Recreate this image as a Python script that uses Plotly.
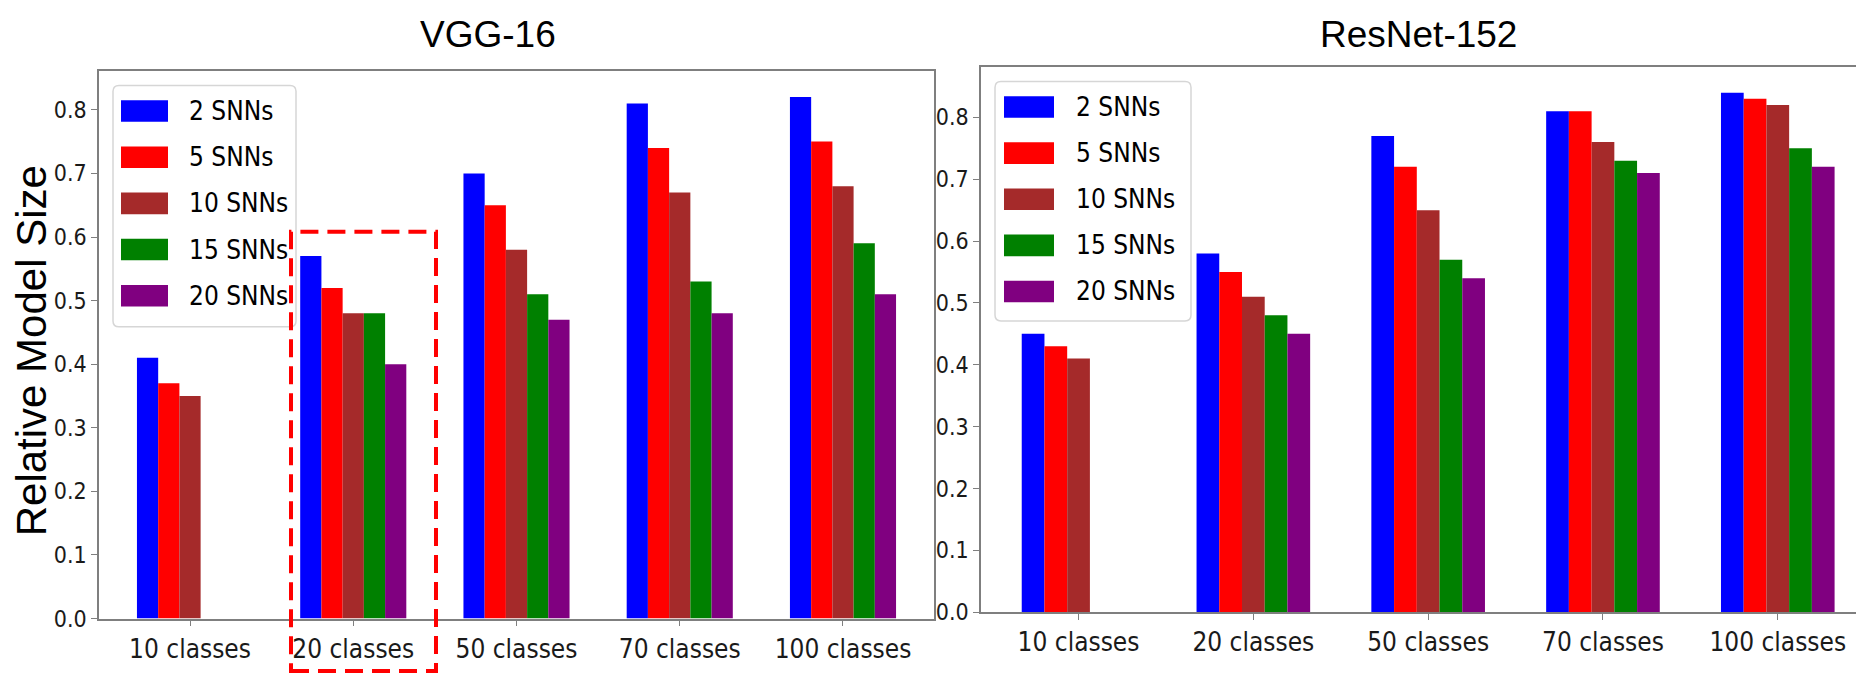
import plotly.graph_objects as go

categories = ["10 classes", "20 classes", "50 classes", "70 classes", "100 classes"]
series_names = ["2 SNNs", "5 SNNs", "10 SNNs", "15 SNNs", "20 SNNs"]
series_colors = ["#0000ff", "#ff0000", "#a52a2a", "#008000", "#800080"]

vgg_2 = [0.41, 0.57, 0.70, 0.81, 0.82]
vgg_5 = [0.37, 0.52, 0.65, 0.74, 0.75]
vgg_10 = [0.35, 0.48, 0.58, 0.67, 0.68]
vgg_15 = [None, 0.48, 0.51, 0.53, 0.59]
vgg_20 = [None, 0.40, 0.47, 0.48, 0.51]

res_2 = [0.45, 0.58, 0.77, 0.81, 0.84]
res_5 = [0.43, 0.55, 0.72, 0.81, 0.83]
res_10 = [0.41, 0.51, 0.65, 0.76, 0.82]
res_15 = [None, 0.48, 0.57, 0.73, 0.75]
res_20 = [None, 0.45, 0.54, 0.71, 0.72]

y_ticks = [0.0, 0.1, 0.2, 0.3, 0.4, 0.5, 0.6, 0.7, 0.8]
y_tick_labels = ["0.0", "0.1", "0.2", "0.3", "0.4", "0.5", "0.6", "0.7", "0.8"]

titles = ["VGG-16", "ResNet-152"]
y_title = "Relative Model Size"

W, H = 1864, 678
def px(x):
    return x / W
def py(y):
    return 1 - y / H

NARROW = "DejaVu Sans Condensed, Liberation Sans Narrow, sans-serif"
REG = "Liberation Sans, Arial, sans-serif"

fig = go.Figure()
vgg = [vgg_2, vgg_5, vgg_10, vgg_15, vgg_20]
res = [res_2, res_5, res_10, res_15, res_20]
for name, color, vals in zip(series_names, series_colors, vgg):
    fig.add_trace(go.Bar(x=categories, y=vals, name=name, marker_color=color,
                         marker_line_width=0, xaxis="x", yaxis="y", showlegend=False))
for name, color, vals in zip(series_names, series_colors, res):
    fig.add_trace(go.Bar(x=categories, y=vals, name=name, marker_color=color,
                         marker_line_width=0, xaxis="x2", yaxis="y2", showlegend=False))

axis_common = dict(showline=True, linecolor="#7f7f7f", linewidth=1.5,
                   ticks="outside", ticklen=6, tickcolor="#7f7f7f", tickwidth=1,
                   showgrid=False, zeroline=False)

XTF = dict(family=NARROW, size=26, color="#1a1a1a")
YTF = dict(family=NARROW, size=23, color="#1a1a1a")

fig.update_layout(
    width=W, height=H,
    margin=dict(l=0, r=0, t=0, b=0),
    paper_bgcolor="white", plot_bgcolor="white",
    barmode="group", bargap=0.35, bargroupgap=0,
    showlegend=False,
    xaxis=dict(domain=[px(91), px(926)], range=[-0.5575, 4.5575], anchor="y",
               mirror=True, tickfont=XTF, **axis_common),
    yaxis=dict(domain=[py(622.5), py(64)], range=[0, 0.8614], anchor="x",
               mirror=True, tickvals=y_ticks, ticktext=y_tick_labels,
               tickfont=YTF, **axis_common),
    xaxis2=dict(domain=[px(973), 1.0], range=[-0.558, 4.539], anchor="y2",
                mirror=True, tickfont=XTF, **axis_common),
    yaxis2=dict(domain=[py(616), py(60)], range=[0, 0.8817], anchor="x2",
                tickvals=y_ticks, ticktext=y_tick_labels,
                tickfont=YTF, **axis_common),
)

shapes = []
annotations = []

def rounded_rect(x0, y0, x1, y1, r):
    X0, X1 = px(x0), px(x1)
    Y0, Y1 = py(y0), py(y1)
    rx, ry = r / W, r / H
    return (f"M{X0+rx},{Y0} L{X1-rx},{Y0} Q{X1},{Y0} {X1},{Y0-ry} "
            f"L{X1},{Y1+ry} Q{X1},{Y1} {X1-rx},{Y1} L{X0+rx},{Y1} "
            f"Q{X0},{Y1} {X0},{Y1+ry} L{X0},{Y0-ry} Q{X0},{Y0} {X0+rx},{Y0} Z")

legend_specs = [
    dict(box=(105, 79, 288, 325), sx=(113, 160), tx=179, y0=105, dy=47.1),
    dict(box=(987, 75, 1183, 319), sx=(996, 1046), tx=1066, y0=101, dy=47.0),
]
for spec in legend_specs:
    bx0, by0, bx1, by1 = spec["box"]
    shapes.append(dict(type="path", xref="paper", yref="paper",
                       path=rounded_rect(bx0, by0, bx1, by1, 6),
                       fillcolor="rgba(255,255,255,0.85)",
                       line=dict(color="#d6d6d6", width=1.5), layer="above"))
    for i, (name, color) in enumerate(zip(series_names, series_colors)):
        cy = spec["y0"] + i * spec["dy"]
        shapes.append(dict(type="rect", xref="paper", yref="paper",
                           x0=px(spec["sx"][0]), x1=px(spec["sx"][1]),
                           y0=py(cy + 11), y1=py(cy - 11),
                           fillcolor=color, line=dict(width=0), layer="above"))
        annotations.append(dict(x=px(spec["tx"]), y=py(cy), xref="paper", yref="paper",
                                text=name, showarrow=False, xanchor="left", yanchor="middle",
                                font=dict(family=NARROW, size=26, color="black")))

# dashed highlight box around "20 classes"
shapes.append(dict(type="rect", xref="paper", yref="paper",
                   x0=px(283), x1=px(428), y0=py(676), y1=py(228),
                   line=dict(color="#ff0000", width=4, dash="18px,9px"),
                   fillcolor="rgba(0,0,0,0)", layer="above"))

annotations.append(dict(x=px(480), y=py(27), xref="paper", yref="paper", text=titles[0],
                        showarrow=False, xanchor="center", yanchor="middle",
                        font=dict(family=REG, size=37, color="black")))
annotations.append(dict(x=px(1410), y=py(27), xref="paper", yref="paper", text=titles[1],
                        showarrow=False, xanchor="center", yanchor="middle",
                        font=dict(family=REG, size=37, color="black")))
annotations.append(dict(x=px(23), y=py(350), xref="paper", yref="paper", text=y_title,
                        showarrow=False, xanchor="center", yanchor="middle", textangle=-90,
                        font=dict(family=REG, size=42, color="black")))

fig.update_layout(shapes=shapes, annotations=annotations)
fig.write_html("out.html")
